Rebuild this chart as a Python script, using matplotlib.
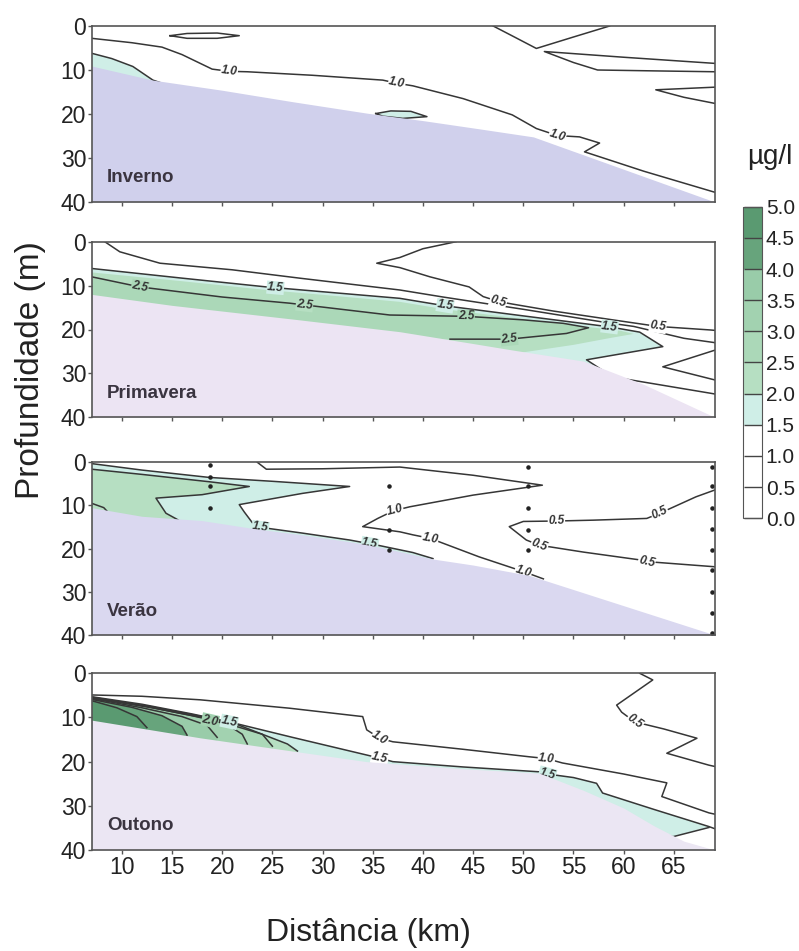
import numpy as np
import matplotlib
matplotlib.use("Agg")
import matplotlib.pyplot as plt
from matplotlib.colors import ListedColormap, BoundaryNorm
from matplotlib.cm import ScalarMappable
from matplotlib.path import Path

plt.rcParams['font.family'] = ['Liberation Sans', 'DejaVu Sans']

#%% colour scale (ug/l)
levels = [0.0, 0.5, 1.0, 1.5, 2.0, 2.5, 3.0, 3.5, 4.0, 4.5, 5.0]
band_colors = ['#ffffff', '#ffffff', '#ffffff', '#cfeee7', '#b6dfc2',
               '#abd8b8', '#a2d2b0', '#99cca9', '#67a47c', '#5a9a71']

#%% INVERNO: seabed top, filled bands, isolines, isoline labels (km, m)
inverno_bed = [(7, 9.1), (13.1, 12.3), (20, 14.6), (27, 17.2), (34.4, 19.8),
               (40, 21.5), (46, 23.5), (51, 25.2), (69.1, 40)]
inverno_fill = [
    (1.5, [(7, 6.2), (9, 7.4), (11.1, 9.2), (13.1, 12.3), (14, 13), (14, 40), (7, 40)]),
    (1.5, [(35.3, 19.9), (36.8, 19.3), (38.8, 19.4), (40.4, 20.6), (38, 21), (36, 20.5)]),
]
inverno_iso = [
    (1.0, [(7, 2.8), (11, 3.8), (14, 4.8), (16, 6.5), (19, 9.8), (20.7, 10.3), (22.5, 10.4),
           (29, 11.2), (36, 12.3), (37.4, 13.0), (39, 13.6), (44, 16.5), (48.9, 20.2),
           (51.3, 23.3), (53.4, 24.9), (55.6, 25.2), (57.6, 26.6), (56.1, 28.6),
           (62, 33), (69.1, 37.8)]),
    (1.5, [(7, 6.2), (9, 7.4), (11.1, 9.2), (13.1, 12.3), (14, 13)]),
    (1.5, [(35.3, 19.9), (36.8, 19.3), (38.8, 19.4), (40.4, 20.6), (38, 21), (36, 20.5), (35.3, 19.9)]),
    (0.5, [(14.8, 2.2), (16.5, 1.7), (19.5, 1.6), (21.7, 2.2), (19.5, 2.8), (16.5, 2.8), (14.8, 2.2)]),
    (0.5, [(47, 0), (49.2, 2.6), (51.3, 5.1), (55, 2.5), (58.6, 0)]),
    (0.5, [(69.1, 8.5), (60, 7.1), (52.1, 5.8), (55, 8.3), (57.4, 10), (63, 10.2), (69.1, 10.4)]),
    (0.5, [(69.1, 13.9), (63.2, 14.5), (66, 16.2), (69.1, 17.6)]),
]
inverno_tags = [(1.0, 20.7, 10.3), (1.0, 37.4, 13.0), (1.0, 53.4, 24.9)]

#%% PRIMAVERA
primavera_bed = [(7, 12), (15, 14.5), (27.7, 17.8), (37.7, 20.5), (45, 23.2), (49, 24.7),
                 (56, 27.2), (62, 32.5), (69.1, 40)]
primavera_fill = [
    (1.5, [(7, 6.1), (16, 8.3), (24.4, 10.3), (30, 11.4), (37.7, 12.9), (42.2, 14.6), (50, 16.9),
           (58.6, 19.4), (61.6, 20.6), (63.9, 23.9), (56.3, 26.9), (58.9, 30.8), (60, 40), (7, 40)]),
    (2.0, [(7, 7.0), (16, 9.0), (24.4, 11.0), (30, 12.1), (37.7, 13.7), (42.2, 15.4), (50, 17.6),
           (56, 19.3), (59.7, 20.3), (61, 21.0), (58.5, 22.0), (55, 23.5), (50, 25.2), (45, 24.5),
           (7, 16)]),
    (2.5, [(7, 8.0), (11.8, 10.3), (20, 12.6), (26.7, 14.0), (36.7, 16.7), (44.3, 17.0), (50, 17.8),
           (54, 18.6), (56.5, 19.6), (54.3, 20.9), (48.6, 22.2), (42.7, 22.2), (40, 22), (7, 16)]),
]
primavera_iso = [
    (0.5, [(43.3, 0), (40, 1.6), (37.7, 3.6), (35.4, 4.9), (37.7, 5.9), (40.7, 8.0), (44.6, 10.3),
           (46, 12.5), (47.5, 13.6), (48.9, 14.2), (53, 15.8), (58.9, 17.8), (63.4, 19.3),
           (68.6, 20.1), (69.1, 20.2)]),
    (0.5, [(69.1, 24.7), (63.9, 28.5), (69.1, 31.5)]),
    (1.0, [(8.3, 0), (9.8, 2.3), (13.8, 4.9), (21, 6.4), (27.7, 8.3), (37.7, 11.0), (42, 12.6),
           (50, 15.4), (58.2, 18.4), (61, 19.3), (66, 22), (69.1, 23)]),
    (1.5, [(7, 6.1), (16, 8.3), (24.4, 10.3), (30, 11.4), (37.7, 12.9), (42.2, 14.6), (50, 16.9),
           (58.6, 19.4), (61.6, 20.6), (63.9, 23.9), (56.3, 26.9), (58.9, 30.8), (68.6, 34.5),
           (69.1, 34.7)]),
    (2.5, [(7, 8.0), (11.8, 10.3), (20, 12.6), (26.7, 14.0), (36.7, 16.7), (44.3, 17.0), (50, 17.8),
           (54, 18.6), (56.5, 19.6), (54.3, 20.9), (48.6, 22.2), (42.7, 22.2)]),
]
primavera_tags = [(1.5, 25.3, 10.5), (1.5, 42.2, 14.6), (1.5, 58.6, 19.4), (2.5, 11.8, 10.3),
                  (2.5, 28.2, 14.4), (2.5, 44.3, 17.0), (2.5, 48.6, 22.2), (0.5, 47.5, 13.6),
                  (0.5, 63.4, 19.3)]

#%% VERAO
verao_bed = [(7, 10.5), (12, 12.5), (18, 13.5), (23, 15.3), (28, 16.8), (33, 18.5), (36, 19.8),
             (41, 22.4), (45, 23.8), (50.6, 26.2), (69.1, 40)]
verao_fill = [
    (1.5, [(7, 0.3), (12, 1.8), (18.7, 3.5), (25, 4.4), (32.7, 5.6), (28, 7.2), (21.7, 9.8),
           (22.2, 11.5), (23.3, 14.9), (28, 16.4), (32.7, 18), (35.7, 19.3), (39, 20.9),
           (41, 22.3), (41, 40), (7, 40)]),
    (2.0, [(7, 1.6), (12, 2.8), (18.7, 4.5), (22.7, 5.6), (18, 7.5), (13.4, 8.3), (14.4, 11.8),
           (15.5, 13.2), (15.5, 40), (7, 40)]),
]
verao_iso = [
    (1.5, [(7, 0.3), (12, 1.8), (18.7, 3.5), (25, 4.4), (32.7, 5.6), (28, 7.2), (21.7, 9.8),
           (22.2, 11.5), (23.3, 14.9), (28, 16.4), (32.7, 18), (35.7, 19.3), (39, 20.9), (41, 22.3)]),
    (2.0, [(7, 1.6), (12, 2.8), (18.7, 4.5), (22.7, 5.6), (18, 7.5), (13.4, 8.3), (14.4, 11.8),
           (15.5, 13.2), (16, 14)]),
    (2.5, [(7, 9.5), (8.2, 10.5), (8.8, 12)]),
    (1.0, [(23.5, 0), (24.4, 1.6), (30, 1.5), (37.7, 1.1), (45, 3.0), (51.9, 5.3), (45, 7.6),
           (38.7, 10.3), (37.1, 11.2), (35.5, 13.0), (34, 14.9), (37.7, 16.1), (39, 16.8),
           (40.7, 17.6), (45.6, 21.9), (50, 25.3), (52, 27)]),
    (0.5, [(69.1, 6.4), (67.2, 8.0), (63.6, 11.8), (62.3, 13.0), (57, 13.4), (53.3, 13.6),
           (50, 13.7), (48.6, 14.9), (50.3, 18.0), (51.6, 19.2), (56, 20.8), (61.6, 22.6),
           (62.3, 23.0), (69.1, 24.2)]),
]
verao_tags = [(1.5, 23.8, 15.1), (1.5, 34.7, 18.9), (1.0, 37.2, 11.1), (1.0, 40.7, 17.6),
              (1.0, 50.0, 25.3), (0.5, 53.3, 13.6), (0.5, 63.6, 11.8), (0.5, 51.6, 19.2),
              (0.5, 62.3, 23.0)]
# sampling points (CTD casts)
verao_station_km = [18.8] * 4 + [36.6] * 3 + [50.5] * 5 + [68.8] * 9
verao_station_m = [0.6, 3.5, 5.6, 10.5,
                   5.6, 15.7, 20.3,
                   1.0, 5.6, 10.7, 15.7, 20.3,
                   1.0, 5.6, 10.5, 15.5, 20.3, 25.0, 30.0, 35.0, 39.5]

#%% OUTONO
outono_bed = [(7, 10.6), (17.8, 14.6), (27, 17.6), (34.4, 20.0), (44, 21.6), (51.6, 22.6),
              (56, 26.5), (60, 30.5), (63, 34.5), (66, 38), (69.1, 40)]
outono_fill = [
    (1.5, [(7, 5.3), (12, 7.0), (17, 9.2), (20.7, 11.0), (27, 14.5), (34.4, 18.5), (37, 20),
           (44, 21.2), (51.6, 22.3), (55, 23.6), (57.3, 24.9), (57.9, 27.1), (63, 30.8),
           (68.5, 34.7), (64.9, 37.0), (60.9, 34.0), (50, 40), (7, 40)]),
    (2.0, [(7, 5.4), (12, 7.3), (17, 9.6), (20.5, 11.4), (24, 13.8), (26.5, 16), (27.5, 17.6),
           (27.5, 40), (7, 40)]),
    (2.5, [(7, 5.5), (13, 7.6), (18, 9.8), (21.5, 11.6), (24, 13.8), (25, 16.5), (25, 40), (7, 40)]),
    (3.0, [(7, 5.6), (13, 7.8), (18, 10.0), (20.5, 11.6), (22, 13.8), (22.5, 16), (22.5, 40), (7, 40)]),
    (3.5, [(7, 5.7), (12, 7.8), (16, 9.8), (18.5, 11.8), (19.5, 14.5), (19.5, 40), (7, 40)]),
    (4.0, [(7, 5.9), (11, 7.7), (14, 9.6), (16, 12), (16.5, 14), (16.5, 40), (7, 40)]),
    (4.5, [(7, 6.2), (9.5, 7.8), (11.5, 9.8), (12.5, 12.3), (12.5, 40), (7, 40)]),
]
outono_iso = [
    (1.0, [(7, 4.9), (12, 5.2), (17.8, 6.0), (26.7, 7.9), (34, 9.8), (34.4, 12.8), (35.7, 14.7),
           (37, 15.5), (44, 17.2), (50.6, 18.9), (52.3, 19.3), (53.9, 20.3), (60, 22.8),
           (64.3, 24.8), (63.8, 27.9), (68.5, 31.6), (69.1, 31.9)]),
    (1.5, [(7, 5.3), (12, 7.0), (17, 9.2), (20.7, 11.0), (27, 14.5), (34.4, 18.5), (35.7, 19.2),
           (37, 20), (44, 21.2), (51.6, 22.3), (52.4, 22.8), (55, 23.6), (57.3, 24.9),
           (57.9, 27.1), (63, 30.8), (68.5, 34.7), (69.1, 35.2)]),
    (1.5, [(68.5, 34.9), (64.9, 37.0), (60.9, 34.0)]),
    (2.0, [(7, 5.4), (12, 7.3), (17, 9.6), (20.5, 11.4), (24, 13.8), (26.5, 16), (27.5, 17.6)]),
    (2.5, [(7, 5.5), (13, 7.6), (18, 9.8), (21.5, 11.6), (24, 13.8), (25, 16.5)]),
    (3.0, [(7, 5.6), (13, 7.8), (18, 10.0), (20.5, 11.6), (22, 13.8), (22.5, 16)]),
    (3.5, [(7, 5.7), (12, 7.8), (16, 9.8), (18.5, 11.8), (19.5, 14.5)]),
    (4.0, [(7, 5.9), (11, 7.7), (14, 9.6), (16, 12), (16.5, 14)]),
    (4.5, [(7, 6.2), (9.5, 7.8), (11.5, 9.8), (12.5, 12.3)]),
    (0.5, [(61.6, 0), (62.9, 1.5), (59.3, 7.2), (59.8, 8.8), (61.1, 11.0), (64, 12.6),
           (67.3, 14.7), (64.3, 18.1), (68.5, 20.8), (69.1, 21.1)]),
]
outono_tags = [(1.0, 35.7, 14.7), (1.0, 52.3, 19.3), (1.5, 35.7, 19.2), (1.5, 52.4, 22.8),
               (0.5, 61.1, 11.0), (1.5, 20.7, 11.0), (2.0, 18.8, 10.7)]

seasons = ['Inverno', 'Primavera', 'Verão', 'Outono']
bed_colors = ['#d0d0ec', '#ece4f3', '#dad8f0', '#ebe6f3']
panels = [(inverno_bed, inverno_fill, inverno_iso, inverno_tags),
          (primavera_bed, primavera_fill, primavera_iso, primavera_tags),
          (verao_bed, verao_fill, verao_iso, verao_tags),
          (outono_bed, outono_fill, outono_iso, outono_tags)]

cmap = ListedColormap(band_colors)
norm = BoundaryNorm(levels, cmap.N)


def band(lev):
    return cmap(norm(lev + 0.25))


def tag_angle(ax, isolines, lev, x, z):
    # angle of the nearest isoline segment, in screen space
    p = ax.transData.transform((x, z))
    best, ang = None, 0.0
    for l, pts in isolines:
        if l != lev:
            continue
        q = ax.transData.transform(pts)
        for a, b in zip(q[:-1], q[1:]):
            d = b - a
            t = np.clip(np.dot(p - a, d) / max(np.dot(d, d), 1e-9), 0, 1)
            dist = np.hypot(*(a + t * d - p))
            if best is None or dist < best:
                best = dist
                ang = np.degrees(np.arctan2(d[1], d[0]))
    if ang > 90:
        ang -= 180
    if ang < -90:
        ang += 180
    return ang


def tag_background(fills, x, z):
    bg = 'white'
    for lev, poly in sorted(fills, key=lambda f: f[0]):
        if Path(poly).contains_point((x, z)):
            bg = band(lev)
    return bg


fig = plt.figure(figsize=(7.99, 9.51), dpi=100)
boxes = [(26, 202), (241.7, 417.3), (462.3, 635), (673.3, 850)]
x0, x1 = 91.7, 715.0

for i, ((bed, fills, iso, tags), name) in enumerate(zip(panels, seasons)):
    top, bot = boxes[i]
    ax = fig.add_axes([x0 / 799, 1 - bot / 951, (x1 - x0) / 799, (bot - top) / 951])
    ax.set_xlim(7, 69.1)
    ax.set_ylim(40, 0)

    for lev, poly in sorted(fills, key=lambda f: f[0]):
        xs, zs = zip(*poly)
        ax.fill(xs, zs, color=band(lev), lw=0, zorder=1)
    for lev, pts in iso:
        xs, zs = zip(*pts)
        ax.plot(xs, zs, color='#363636', lw=1.1, zorder=2)
    for lev, x, z in tags:
        ax.text(x, z, f'{lev:.1f}', rotation=tag_angle(ax, iso, lev, x, z),
                rotation_mode='anchor', ha='center', va='center', fontsize=8.5,
                style='italic', weight='bold', color='#333333', zorder=2.5,
                bbox=dict(boxstyle='square,pad=0.05', fc=tag_background(fills, x, z), ec='none'))

    bx, bz = zip(*bed)
    ax.fill_between(bx, bz, 40, color=bed_colors[i], lw=0, zorder=3)

    if name == 'Verão':
        ax.scatter(verao_station_km, verao_station_m, s=5, color='#222222', zorder=4,
                   clip_on=False)

    ax.text(8.5, 35.5, name, fontsize=13.5, weight='bold', color='#3a3440', zorder=5)

    ax.set_xticks(np.arange(10, 70, 5))
    ax.set_yticks([0, 10, 20, 30, 40])
    ax.tick_params(direction='out', length=3, width=1, colors='#555555',
                   labelcolor='#222222', labelsize=16.5, pad=1)
    if i < 3:
        ax.tick_params(labelbottom=False)
    for s in ax.spines.values():
        s.set_color('#555555')
        s.set_linewidth(1.2)
        s.set_zorder(6)

# colour bar
cax = fig.add_axes([743.3 / 799, 1 - 518.3 / 951, 18.4 / 799, 311.6 / 951])
cb = fig.colorbar(ScalarMappable(norm=norm, cmap=cmap), cax=cax, ticks=levels)
cb.ax.set_yticklabels([f'{v:.1f}' for v in levels])
cb.ax.tick_params(direction='in', length=13, width=1, color='#444444', labelsize=15,
                  pad=3, labelcolor='#222222')
cb.outline.set_edgecolor('#555555')

fig.text(770 / 799, 1 - 157 / 951, 'µg/l', fontsize=20, ha='center', va='center',
         color='#222222')
fig.text(368 / 799, 1 - 933 / 951, 'Distância (km)', fontsize=23, ha='center', va='center',
         color='#222222')
fig.text(30 / 799, 1 - 370 / 951, 'Profundidade (m)', fontsize=24, rotation=90,
         ha='center', va='center', color='#222222')

fig.savefig('out.png', dpi=100)
